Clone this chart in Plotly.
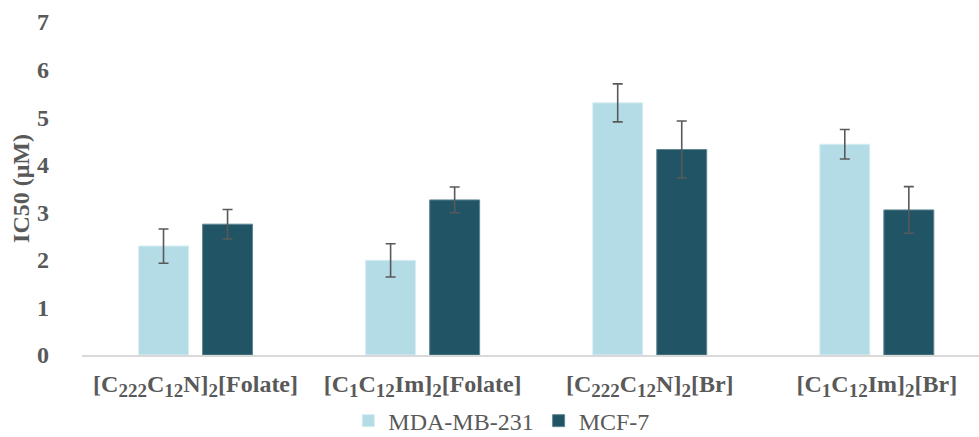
import plotly.graph_objects as go


def sub(s):
    return f"<sub><span style='font-size:19px'>{s}</span></sub>"


categories = [
    f"[C{sub('222')}C{sub('12')}N]{sub('2')}[Folate]",
    f"[C{sub('1')}C{sub('12')}Im]{sub('2')}[Folate]",
    f"[C{sub('222')}C{sub('12')}N]{sub('2')}[Br]",
    f"[C{sub('1')}C{sub('12')}Im]{sub('2')}[Br]",
]
mda_values = [2.29, 1.99, 5.30, 4.43]
mda_errors = [0.36, 0.35, 0.40, 0.31]
mcf_values = [2.75, 3.26, 4.32, 3.05]
mcf_errors = [0.31, 0.27, 0.60, 0.49]

text_color = "#595959"
serif = "Liberation Serif"

fig = go.Figure()
fig.add_trace(go.Bar(
    name="MDA-MB-231", x=categories, y=mda_values,
    marker=dict(color="#b4dce6", line=dict(color="#d6edf2", width=1)),
    error_y=dict(type="data", array=mda_errors, color="#595959", thickness=1.6, width=5),
))
fig.add_trace(go.Bar(
    name="MCF-7", x=categories, y=mcf_values,
    marker=dict(color="#215565", line=dict(color="#5f8793", width=1)),
    error_y=dict(type="data", array=mcf_errors, color="#595959", thickness=1.6, width=5),
))

fig.update_layout(
    width=979, height=437,
    margin=dict(l=82, r=0, t=22, b=82, autoexpand=False),
    paper_bgcolor="white", plot_bgcolor="white",
    barmode="group", bargap=0.436, bargroupgap=0.22,
    font=dict(family=serif, color=text_color),
    showlegend=True,
    legend=dict(
        orientation="h", x=0.468, xanchor="center",
        yref="container", y=0.088, yanchor="top",
        font=dict(family=serif, size=24, color=text_color),
        itemwidth=30, traceorder="normal",
    ),
    xaxis=dict(
        range=[-0.5, 3.45], automargin=False,
        showline=True, linecolor="#d9d9d9", linewidth=1.5,
        showgrid=False, ticks="", ticklabelstandoff=6,
        tickfont=dict(family=serif, size=24, color=text_color, weight="bold"),
    ),
    yaxis=dict(
        range=[0, 7], dtick=1, showgrid=False, zeroline=False, showline=False,
        automargin=False, ticks="", ticklabelstandoff=32,
        tickfont=dict(family=serif, size=24, color=text_color, weight="bold"),
        title=dict(text="IC50 (μM)", standoff=0,
                   font=dict(family=serif, size=24, color=text_color, weight="bold")),
    ),
)

fig.write_html("out.html")
